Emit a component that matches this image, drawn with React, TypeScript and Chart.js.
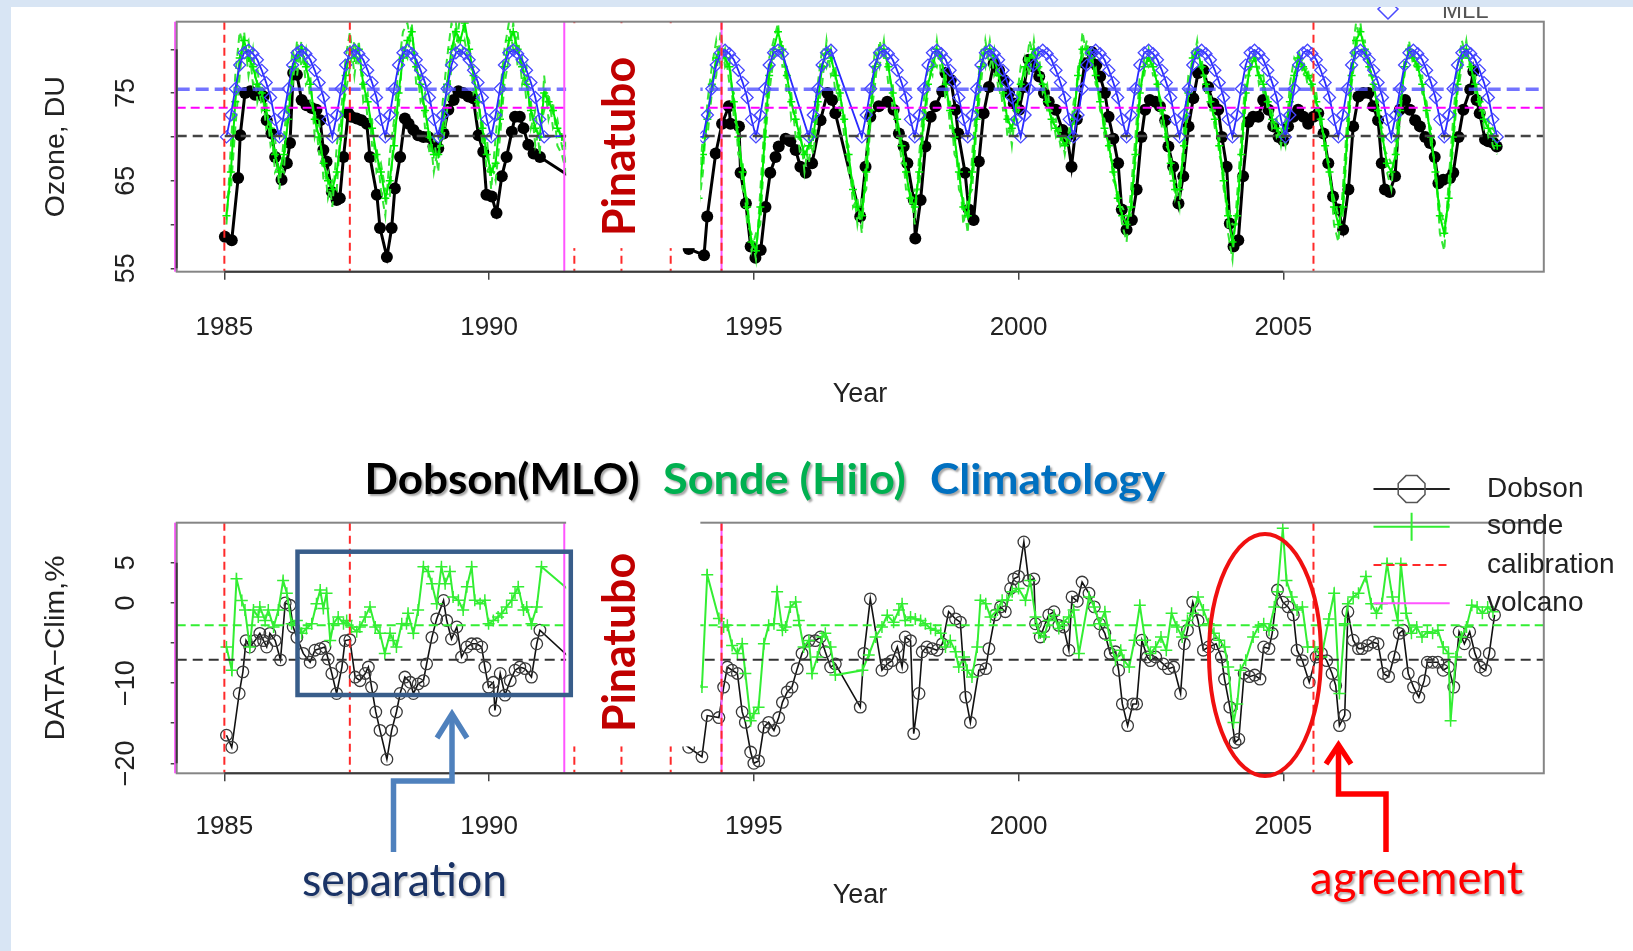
import React, { useEffect, useRef } from 'react';
import { Chart, registerables } from 'chart.js';

Chart.register(...registerables);

// ---------------- data ----------------
const X_MIN = 1984.1;
const X_MAX = 2009.92;
const xTickYears = [1985, 1990, 1995, 2000, 2005];

const topYMin = 54.61;
const topYMax = 83.15;
const topYTicks = [55, 60, 65, 70, 75, 80];
const topYLabelled = [55, 65, 75];
const bottomYMin = -21.25;
const bottomYMax = 10;
const bottomYTicks = [-20, -15, -10, -5, 0, 5];
const bottomYLabelled = [-20, -10, 0, 5];

const calibrationYears = [1985.0, 1987.37, 1991.61, 1992.5, 1993.43, 1994.39, 2005.57];
const volcanoYears = [1984.07, 1991.42, 1994.39];

const climatologyMeanDU = 75.45;
const sondeMeanDU = 73.33;
const dobsonMeanDU = 70.1;
const sondeAnomalyMean = -2.8;
const dobsonAnomalyMean = -7.1;

// Climatology (MLL) by month, Jan..Dec
const climatologyCycle = [70.0, 72.5, 75.5, 78.2, 79.6, 79.9, 79.5, 78.8, 77.6, 76.2, 74.5, 72.0];
const climatologySpans: [number, number][] = [[1985, 1991], [1994, 2009]];
const climatologyTail: [number, number][] = [[1991.7, 70.2]];
const climatologySkip: [number, number][] = [[1995.55, 1996.0], [1996.5, 1997.0]];

// Dobson (MLO) total column, DU  [year, value]
const dobsonTop: [number, number][] = [
  [1985.01, 58.6], [1985.14, 58.2], [1985.26, 65.3], [1985.30, 70.2], [1985.39, 75.0], [1985.49, 75.2], [1985.58, 74.8], [1985.67, 75.0], [1985.74, 74.6], [1985.80, 71.9], [1985.89, 70.4], [1985.96, 67.7],
  [1986.08, 65.1], [1986.18, 67.0], [1986.24, 69.3], [1986.30, 77.3], [1986.37, 77.1], [1986.46, 74.2], [1986.55, 73.6], [1986.65, 73.3], [1986.74, 73.1], [1986.81, 71.9], [1986.87, 68.5], [1986.93, 67.2],
  [1987.03, 63.7], [1987.12, 62.8], [1987.18, 63.0], [1987.25, 67.7], [1987.34, 72.7], [1987.40, 72.3], [1987.50, 72.1], [1987.59, 71.9], [1987.69, 71.5], [1987.75, 67.7], [1987.88, 63.4], [1987.94, 59.6],
  [1988.07, 56.3], [1988.16, 59.6], [1988.22, 64.1], [1988.32, 67.7], [1988.41, 72.1], [1988.48, 71.5], [1988.57, 70.8], [1988.66, 70.2], [1988.76, 70.0], [1988.85, 70.0], [1988.95, 68.9],
  [1989.04, 68.7], [1989.14, 70.4], [1989.23, 73.1], [1989.33, 74.2], [1989.42, 75.2], [1989.51, 75.0], [1989.61, 74.6], [1989.70, 74.4], [1989.80, 70.2], [1989.89, 68.3], [1989.95, 63.4],
  [1990.05, 63.2], [1990.14, 61.3], [1990.24, 65.5], [1990.33, 67.7], [1990.43, 70.6], [1990.49, 72.3], [1990.58, 72.3], [1990.65, 71.0], [1990.74, 69.1], [1990.84, 68.1], [1990.96, 67.7],
  [1991.60, 65.2],
  [1993.77, 57.2], [1994.06, 56.5], [1994.12, 60.9], [1994.28, 68.1], [1994.40, 71.5], [1994.53, 73.5], [1994.56, 71.5], [1994.72, 71.2], [1994.75, 65.9], [1994.85, 62.4], [1994.94, 57.5],
  [1995.03, 56.2], [1995.13, 57.1], [1995.22, 62.0], [1995.31, 65.9], [1995.41, 67.7], [1995.47, 68.9], [1995.60, 69.8], [1995.69, 69.5], [1995.79, 68.5], [1995.88, 66.6], [1995.98, 65.9],
  [1996.10, 67.0], [1996.26, 71.9], [1996.39, 75.0], [1996.48, 74.2], [1996.54, 72.7],
  [1997.01, 60.9], [1997.11, 66.6], [1997.20, 72.3], [1997.36, 73.5], [1997.52, 74.0], [1997.64, 73.1], [1997.74, 70.4], [1997.83, 68.9], [1997.90, 67.0],
  [1998.02, 62.8], [1998.05, 58.4], [1998.15, 62.8], [1998.24, 68.9], [1998.34, 72.3], [1998.43, 73.5], [1998.56, 75.2], [1998.62, 77.3], [1998.72, 76.5], [1998.81, 73.1], [1998.86, 70.4], [1998.99, 65.9],
  [1999.06, 61.7], [1999.15, 60.5], [1999.25, 67.2], [1999.34, 72.7], [1999.44, 75.7], [1999.53, 78.4], [1999.63, 77.6], [1999.72, 76.5], [1999.82, 75.0], [1999.91, 73.8],
  [2000.01, 73.1], [2000.10, 75.7], [2000.19, 78.8], [2000.29, 78.0], [2000.39, 76.9], [2000.48, 75.0], [2000.57, 74.0], [2000.70, 73.1], [2000.83, 70.8], [2000.92, 70.0],
  [2001.00, 66.6], [2001.10, 72.0], [2001.25, 78.4], [2001.38, 79.7], [2001.47, 78.2], [2001.54, 76.9], [2001.63, 75.0], [2001.70, 72.3], [2001.79, 69.8], [2001.88, 67.0], [2001.95, 61.7],
  [2002.04, 59.4], [2002.14, 60.5], [2002.23, 64.0], [2002.32, 70.0], [2002.39, 73.1], [2002.48, 74.2], [2002.58, 74.0], [2002.67, 73.5], [2002.77, 71.9], [2002.83, 68.9], [2002.92, 66.6],
  [2003.02, 62.4], [2003.11, 65.5], [2003.21, 71.2], [2003.30, 74.4], [2003.39, 77.3], [2003.49, 77.6], [2003.58, 75.7], [2003.68, 73.8], [2003.77, 73.1], [2003.84, 70.0], [2003.93, 66.6], [2003.99, 60.1],
  [2004.06, 57.5], [2004.15, 58.2], [2004.24, 65.5], [2004.34, 71.7], [2004.43, 72.3], [2004.53, 72.3], [2004.62, 74.2], [2004.72, 73.1], [2004.81, 71.2], [2004.91, 70.0],
  [2005.00, 69.6], [2005.09, 71.2], [2005.19, 72.3], [2005.28, 73.1], [2005.38, 72.3], [2005.47, 71.5], [2005.57, 72.3], [2005.66, 72.7], [2005.76, 70.4], [2005.85, 67.0], [2005.94, 63.2],
  [2006.04, 61.7], [2006.13, 59.4], [2006.23, 64.0], [2006.32, 71.2], [2006.42, 74.6], [2006.51, 75.0], [2006.61, 75.0], [2006.70, 73.5], [2006.79, 71.9], [2006.86, 67.0], [2006.92, 64.0],
  [2007.01, 63.7], [2007.11, 65.5], [2007.20, 73.1], [2007.30, 74.2], [2007.39, 73.1], [2007.49, 71.9], [2007.58, 71.2], [2007.68, 70.0], [2007.77, 69.3], [2007.86, 67.7], [2007.93, 64.7],
  [2008.02, 65.1], [2008.15, 65.3], [2008.21, 65.9], [2008.31, 70.0], [2008.40, 73.1], [2008.53, 75.4], [2008.59, 77.5], [2008.65, 74.2], [2008.71, 72.7], [2008.81, 69.7], [2008.87, 69.5], [2008.97, 69.3],
  [2009.03, 68.9],
];

// Sonde (Hilo) monthly, DU: Jan 1985 .. Aug 1991
const sondeTopEarly = [
  61, 66, 74, 79, 81, 79, 78, 76, 75, 73, 71, 68,
  66, 68, 72, 78, 79, 80, 78, 76, 72, 70, 67, 65,
  64, 66, 70, 77, 80, 79, 80, 76, 74, 71, 68, 66,
  63, 65, 69, 75, 79, 81, 82, 78, 76, 73, 70, 68,
  68, 71, 76, 80, 82, 81, 83, 80, 77, 74, 71, 68,
  66, 67, 72, 78, 81, 82, 80, 78, 76, 73, 71, 70,
  75, 74, 73, 71, 70, 69, 68, 68,
];
// Sonde (Hilo) monthly, DU: Dec 1993 .. Jan 2009
const sondeTopLate = [
  63,
  68, 72, 76, 79, 80, 79, 78, 74, 70, 66, 62, 58,
  57, 62, 70, 77, 80, 82, 80, 77, 74, 72, 70, 68,
  69, 70, 74, 78, 80, 79, 77, 75, 72, 68, 64, 62,
  61, 66, 73, 78, 80, 80, 78, 75, 72, 69, 66, 63,
  62, 66, 72, 76, 78, 80, 79, 76, 73, 70, 66, 62,
  61, 66, 72, 78, 80, 80, 79, 77, 75, 72, 71, 73,
  76, 78, 79, 80, 78, 76, 74, 72, 71, 70, 69, 70,
  72, 77, 80, 80, 79, 77, 74, 71, 69, 66, 63, 61,
  60, 62, 68, 75, 78, 79, 78, 76, 73, 70, 67, 64,
  64, 69, 75, 79, 80, 78, 76, 74, 72, 69, 65, 61,
  58, 61, 68, 75, 78, 79, 77, 76, 74, 72, 71, 70,
  71, 74, 77, 79, 78, 77, 76, 74, 72, 69, 66, 62,
  60, 62, 70, 77, 81, 82, 80, 78, 76, 73, 70, 67,
  66, 68, 73, 78, 80, 79, 78, 76, 73, 70, 66, 61,
  59, 63, 70, 76, 79, 80, 78, 76, 74, 72, 71, 70,
  69,
];
// individual sonde traces (dashed)
const sondeDashAEarly = [
  60, 69, 77, 82, 80, 81, 76, 78, 73, 74, 69, 70,
  64, 70, 75, 80, 77, 81, 76, 77, 70, 72, 65, 66,
  62, 69, 73, 79, 82, 77, 81, 74, 75, 69, 69, 64,
  61, 68, 72, 78, 82, 83, 80, 79, 74, 75, 68, 70,
  66, 74, 79, 83, 80, 84, 82, 81, 75, 76, 69, 70,
  64, 70, 75, 80, 83, 80, 82, 76, 78, 71, 73, 68,
  77, 72, 74, 69, 68, 66, 67, 66,
];
const sondeDashBEarly = [
  63, 64, 71, 77, 82, 77, 80, 74, 76, 71, 72, 66,
  67, 66, 74, 76, 81, 78, 80, 74, 73, 68, 68, 63,
  65, 64, 72, 75, 78, 81, 78, 77, 72, 72, 66, 67,
  64, 63, 71, 73, 80, 79, 83, 76, 77, 71, 71, 66,
  69, 69, 73, 78, 83, 79, 81, 78, 78, 72, 72, 66,
  67, 65, 70, 76, 79, 83, 78, 79, 74, 74, 69, 71,
  73, 75, 71, 72, 69, 67, 66, 67,
];
const sondeDashALate = [
  62,
  66, 74, 78, 81, 78, 80, 76, 75, 68, 67, 60, 59,
  56, 64, 72, 79, 81, 83, 78, 78, 72, 73, 68, 69,
  67, 72, 76, 80, 78, 80, 75, 76, 70, 69, 62, 63,
  59, 68, 75, 80, 78, 81, 76, 76, 70, 70, 64, 64,
  60, 68, 74, 78, 77, 81, 77, 77, 71, 71, 64, 63,
  59, 68, 74, 80, 78, 81, 77, 78, 73, 73, 69, 74,
  78, 77, 81, 79, 80, 75, 76, 71, 72, 69, 70, 69,
  74, 76, 82, 79, 80, 76, 75, 70, 70, 65, 64, 60,
  58, 64, 70, 77, 77, 80, 77, 77, 71, 71, 65, 65,
  62, 71, 77, 78, 81, 77, 77, 73, 73, 68, 66, 59,
  56, 63, 70, 77, 77, 80, 76, 77, 73, 73, 70, 71,
  69, 76, 79, 78, 79, 76, 77, 73, 73, 68, 67, 60,
  58, 64, 72, 79, 83, 81, 81, 77, 77, 72, 71, 66,
  64, 70, 75, 77, 81, 78, 79, 75, 74, 69, 67, 59,
  57, 65, 72, 78, 81, 79, 79, 75, 75, 71, 72, 69,
  68,
];
const sondeDashBLate = [
  65,
  70, 70, 75, 77, 82, 78, 79, 72, 71, 64, 63, 57,
  59, 60, 69, 75, 79, 80, 81, 75, 75, 70, 71, 66,
  70, 68, 73, 76, 81, 77, 78, 73, 73, 66, 65, 60,
  63, 64, 72, 76, 81, 79, 79, 73, 73, 67, 67, 62,
  64, 64, 71, 75, 79, 78, 80, 74, 74, 68, 67, 60,
  63, 64, 71, 76, 81, 78, 80, 75, 76, 70, 72, 71,
  75, 79, 77, 81, 77, 77, 73, 73, 70, 71, 68, 71,
  71, 78, 79, 81, 78, 78, 73, 72, 68, 67, 62, 62,
  61, 61, 67, 74, 79, 78, 79, 75, 74, 69, 68, 63,
  65, 67, 74, 80, 79, 79, 75, 75, 71, 70, 64, 62,
  60, 60, 67, 74, 79, 78, 78, 75, 75, 71, 72, 69,
  72, 73, 76, 80, 77, 78, 75, 75, 71, 70, 65, 63,
  61, 61, 69, 76, 80, 83, 79, 79, 75, 74, 69, 68,
  67, 67, 72, 79, 79, 80, 77, 77, 72, 71, 65, 62,
  60, 62, 69, 75, 78, 81, 77, 77, 73, 73, 70, 71,
  70,
];
const EARLY_START = 1985;
const LATE_START = 1993 + 11 / 12;

// Bottom panel: DATA - Clim, %
const dobsonAnomaly: [number, number][] = [
  [1985.04, -16.5], [1985.14, -18.0], [1985.28, -11.3], [1985.35, -8.6], [1985.41, -4.7], [1985.48, -5.5], [1985.58, -4.7], [1985.67, -3.8], [1985.74, -4.7], [1985.80, -5.5], [1985.86, -3.8], [1985.96, -4.7],
  [1986.06, -7.1], [1986.15, 0.0], [1986.24, -0.3], [1986.30, -3.0], [1986.37, -4.3], [1986.49, -6.3], [1986.62, -7.4], [1986.71, -5.9], [1986.81, -5.7], [1986.90, -5.5], [1986.96, -7.0],
  [1987.03, -8.8], [1987.12, -11.3], [1987.22, -8.0], [1987.28, -4.7], [1987.37, -4.6], [1987.47, -9.25], [1987.56, -9.7], [1987.66, -8.8], [1987.72, -8.0], [1987.78, -10.5], [1987.86, -13.6], [1987.94, -15.9],
  [1988.07, -19.5], [1988.16, -15.9], [1988.25, -13.6], [1988.32, -11.3], [1988.41, -9.25], [1988.51, -9.9], [1988.57, -11.3], [1988.66, -10.1], [1988.76, -9.7], [1988.82, -7.6], [1988.92, -4.3],
  [1989.01, -2.0], [1989.14, 0.3], [1989.20, -2.2], [1989.29, -4.5], [1989.39, -3.0], [1989.48, -6.75], [1989.58, -5.5], [1989.67, -5.1], [1989.77, -5.1], [1989.86, -5.5], [1989.92, -8.0], [1989.99, -10.5],
  [1990.08, -9.9], [1990.11, -13.4], [1990.21, -8.8], [1990.30, -11.5], [1990.40, -9.7], [1990.49, -8.4], [1990.58, -8.0], [1990.68, -8.2], [1990.80, -9.25], [1990.90, -5.1], [1990.96, -3.4],
  [1991.65, -7.6],
  [1993.77, -18.0], [1994.02, -19.2], [1994.12, -14.05], [1994.34, -14.3], [1994.43, -10.5], [1994.50, -8.0], [1994.59, -8.4], [1994.69, -8.8], [1994.78, -13.6], [1994.84, -14.9], [1994.94, -18.6],
  [1995.00, -20.0], [1995.09, -19.7], [1995.19, -15.5], [1995.28, -14.9], [1995.38, -15.9], [1995.47, -14.3], [1995.54, -12.4], [1995.63, -11.1], [1995.72, -10.5], [1995.82, -8.2], [1995.91, -6.3],
  [1996.04, -4.7], [1996.16, -4.7], [1996.26, -4.25], [1996.35, -6.1], [1996.45, -8.0], [1996.54, -7.6],
  [1997.01, -13.0], [1997.08, -6.3], [1997.20, 0.5], [1997.42, -8.4], [1997.52, -7.6], [1997.61, -7.2], [1997.71, -5.5], [1997.80, -8.0], [1997.86, -4.25], [1997.96, -4.7],
  [1998.02, -16.3], [1998.12, -11.3], [1998.18, -6.1], [1998.27, -5.5], [1998.37, -5.7], [1998.46, -5.9], [1998.56, -5.1], [1998.68, -1.1], [1998.81, -2.0], [1998.90, -2.4],
  [1999.00, -11.75], [1999.09, -14.9], [1999.25, -8.4], [1999.38, -8.2], [1999.44, -5.7], [1999.56, -1.5], [1999.66, -0.5], [1999.75, -1.1], [1999.85, 1.8], [1999.91, 3.0],
  [2000.00, 3.3], [2000.10, 7.6], [2000.19, 2.8], [2000.29, 3.0], [2000.32, -2.6], [2000.41, -4.25], [2000.48, -3.0], [2000.57, -1.5], [2000.67, -1.1], [2000.76, -2.8], [2000.85, -3.0], [2000.95, -5.9],
  [2001.01, 0.75], [2001.11, 0.2], [2001.20, 2.6], [2001.33, 1.2], [2001.43, -0.5], [2001.53, -2.6], [2001.63, -3.8], [2001.73, -6.3], [2001.83, -6.1], [2001.89, -8.4], [2001.96, -12.6],
  [2002.06, -15.3], [2002.16, -12.6], [2002.23, -12.6], [2002.33, -4.66], [2002.43, -6.75], [2002.49, -7.2], [2002.59, -6.75], [2002.73, -7.6], [2002.83, -8.2], [2002.93, -8.0],
  [2003.06, -11.3], [2003.13, -5.1], [2003.19, -3.4], [2003.29, 0.1], [2003.39, -2.2], [2003.49, -5.9], [2003.59, -5.5], [2003.73, -5.1], [2003.83, -6.75], [2003.89, -9.5], [2003.99, -13.0],
  [2004.09, -17.4], [2004.16, -17.0], [2004.26, -8.8], [2004.36, -9.2], [2004.46, -9.0], [2004.56, -9.5], [2004.63, -5.5], [2004.73, -5.7], [2004.79, -3.8], [2004.89, 1.6], [2004.99, 0.1],
  [2005.09, -0.5], [2005.19, -1.5], [2005.26, -5.9], [2005.36, -7.2], [2005.49, -9.9], [2005.62, -6.75], [2005.72, -6.3], [2005.82, -7.2], [2005.92, -8.8], [2005.99, -10.3],
  [2006.06, -15.3], [2006.16, -14.0], [2006.22, -1.1], [2006.32, -4.66], [2006.42, -5.7], [2006.49, -5.7], [2006.59, -5.3], [2006.69, -4.9], [2006.79, -5.1], [2006.89, -8.8], [2006.99, -9.2],
  [2007.09, -6.75], [2007.19, -3.8], [2007.26, -3.4], [2007.36, -8.8], [2007.46, -10.5], [2007.56, -11.75], [2007.66, -9.7], [2007.72, -7.4], [2007.82, -7.4], [2007.92, -7.4],
  [2008.02, -8.4], [2008.12, -8.0], [2008.22, -10.5], [2008.32, -3.6], [2008.42, -5.1], [2008.52, -3.6], [2008.62, -6.3], [2008.72, -8.0], [2008.82, -8.4], [2008.89, -6.3], [2008.99, -1.5],
];

const sondeAnomaly: [number, number][] = [
  [1985.04, -5.5], [1985.14, -8.4], [1985.23, 3.0], [1985.33, 0.3], [1985.39, -0.9], [1985.48, -5.5], [1985.55, -0.9], [1985.64, -1.75], [1985.67, -0.5], [1985.77, -2.2], [1985.83, -0.9], [1985.93, -3.0],
  [1986.02, -0.9], [1986.11, 2.8], [1986.18, 1.2], [1986.27, -2.6], [1986.37, -2.2], [1986.46, -3.8], [1986.55, -3.2], [1986.65, -2.6], [1986.74, -0.1], [1986.81, 1.6], [1986.87, -0.7], [1986.93, 1.2],
  [1987.00, -4.7], [1987.06, -2.6], [1987.15, -1.75], [1987.25, -2.6], [1987.31, -2.2], [1987.40, -3.0], [1987.50, -3.6], [1987.56, -3.0], [1987.66, -1.75], [1987.75, -0.5], [1987.85, -3.0], [1987.94, -3.8],
  [1988.03, -6.3], [1988.13, -3.8], [1988.19, -4.7], [1988.25, -5.5], [1988.35, -2.6], [1988.44, -2.6], [1988.47, -1.3], [1988.57, -3.8], [1988.66, -0.9], [1988.76, 4.5], [1988.85, 3.9], [1988.92, 2.4],
  [1989.01, -0.1], [1989.10, 4.5], [1989.17, 2.4], [1989.26, 3.9], [1989.32, 0.75], [1989.42, 0.33], [1989.51, -0.9], [1989.58, 2.0], [1989.67, 4.5], [1989.73, 0.33], [1989.83, -0.1], [1989.92, 0.33],
  [1989.99, -2.6], [1990.08, -2.2], [1990.17, -1.75], [1990.24, -1.3], [1990.33, -0.5], [1990.43, 0.33], [1990.49, 1.2], [1990.55, 2.0], [1990.65, -0.9], [1990.71, -0.5], [1990.80, -2.6], [1990.90, -0.5],
  [1990.99, 4.5], [1991.65, 0.8],
  [1994.02, -10.5], [1994.12, 3.5], [1994.34, -1.96], [1994.43, -3.0], [1994.50, -2.8], [1994.59, -5.3], [1994.69, -6.3], [1994.78, -5.1], [1994.84, -8.8], [1994.94, -14.7],
  [1995.00, -13.8], [1995.09, -13.0], [1995.19, -5.1], [1995.28, -2.8], [1995.38, -2.6], [1995.44, 1.4], [1995.54, -3.4], [1995.60, -3.0], [1995.69, -0.5], [1995.79, 0.1], [1995.85, -2.2], [1995.94, -5.5],
  [1996.04, -4.7], [1996.10, -8.8], [1996.20, -6.75], [1996.29, -4.25], [1996.35, -3.8], [1996.45, -5.5], [1996.54, -9.0],
  [1997.05, -8.4], [1997.17, -6.5], [1997.30, -4.25], [1997.42, -3.0], [1997.52, -1.55], [1997.64, -2.4], [1997.74, -0.9], [1997.80, -0.1], [1997.86, -2.2], [1997.96, -1.75],
  [1998.05, -2.0], [1998.15, -2.2], [1998.24, -2.6], [1998.34, -3.2], [1998.43, -3.4], [1998.53, -3.8], [1998.62, -5.5], [1998.71, -4.7], [1998.81, -6.1], [1998.87, -8.0], [1998.97, -6.75],
  [1999.03, -8.4], [1999.12, -9.25], [1999.22, -5.5], [1999.28, 0.33], [1999.38, -0.1], [1999.47, -1.75], [1999.60, -0.9], [1999.69, 0.33], [1999.78, 0.33], [1999.88, 1.4],
  [2000.00, 1.8], [2000.13, 0.33], [2000.22, 2.8], [2000.32, -1.75], [2000.38, -3.8], [2000.48, -4.25], [2000.57, -2.2], [2000.67, -1.55], [2000.76, -3.2], [2000.85, -2.4], [2000.95, -1.75],
  [2001.04, -0.9], [2001.14, -6.3], [2001.33, 0.75], [2001.43, -0.5], [2001.53, -2.6], [2001.63, -1.1], [2001.73, -4.66], [2001.83, -7.16], [2001.93, -5.9], [2001.99, -7.16],
  [2002.09, -8.0], [2002.19, -4.66], [2002.29, -0.3], [2002.39, -4.66], [2002.49, -6.3], [2002.59, -5.5], [2002.69, -4.25], [2002.79, -5.9], [2002.89, -1.3], [2002.99, -3.0],
  [2003.09, -4.25], [2003.19, -2.2], [2003.29, -1.3], [2003.39, 0.75], [2003.49, -0.9], [2003.59, -2.6], [2003.69, -3.8], [2003.79, -4.66], [2003.89, -5.5], [2003.96, -8.0],
  [2004.06, -14.9], [2004.13, -12.6], [2004.19, -8.4], [2004.29, -7.16], [2004.43, -4.25], [2004.53, -3.0], [2004.63, -2.6], [2004.73, -3.4], [2004.83, -0.5], [2004.89, 1.4], [2004.99, 9.3],
  [2005.06, 2.8], [2005.16, 0.75], [2005.26, -0.9], [2005.36, -0.5], [2005.46, -5.5], [2005.59, -5.5], [2005.72, -6.75], [2005.86, -2.0], [2005.96, 1.2],
  [2006.06, -11.3], [2006.16, -2.6], [2006.22, -0.1], [2006.32, 0.75], [2006.42, 1.2], [2006.56, 3.3], [2006.66, -0.1], [2006.76, -1.3], [2006.86, -0.1], [2006.96, 4.9],
  [2007.06, 0.75], [2007.16, -2.2], [2007.22, 4.9], [2007.32, -1.3], [2007.42, -3.8], [2007.52, -3.0], [2007.62, -4.25], [2007.72, -3.6], [2007.82, -3.8], [2007.92, -3.4],
  [2008.02, -5.5], [2008.12, -6.3], [2008.16, -14.7], [2008.26, -6.75], [2008.36, -4.25], [2008.46, -3.0], [2008.56, -0.3], [2008.66, -0.5], [2008.76, -1.3], [2008.86, -0.5], [2008.96, -1.1],
];

const legendLabels = ['Dobson', 'sonde', 'calibration', 'volcano'];
const titleParts = ['Dobson(MLO)', 'Sonde (Hilo)', 'Climatology'];

// ---------------- helpers ----------------
const FONT_R = '"Liberation Sans", Arial, Helvetica, sans-serif';
const FONT_SLIDE = 'Lato, "Open Sans", "Noto Sans", sans-serif';
const SLIDE_BLUE = '#d8e5f4';
const BOTTOM_OFFSET = 430;

function monthly(start: number, values: number[]) {
  return values.map((v, i) => ({ x: start + i / 12 + 0.04, y: v }));
}
function pairs(list: [number, number][]) {
  return list.map(([x, y]) => ({ x, y }));
}
function climatologyPoints() {
  const pts: { x: number; y: number }[] = [];
  climatologySpans.forEach(([a, b], k) => {
    for (let yr = a; yr < b; yr++) {
      for (let m = 0; m < 12; m++) {
        const x = yr + m / 12 + 0.04;
        if (climatologySkip.some(([s, e]) => x > s && x < e)) continue;
        pts.push({ x, y: climatologyCycle[m] });
      }
    }
    pts.push({ x: b + 0.04, y: climatologyCycle[0] });
    if (k === 0) climatologyTail.forEach(([x, y]) => pts.push({ x, y }));
  });
  return pts;
}
function flatLine(v: number) {
  return [{ x: X_MIN, y: v }, { x: X_MAX, y: v }];
}

function drawText(ctx: CanvasRenderingContext2D, text: string, x: number, y: number, o: any) {
  ctx.save();
  ctx.font = o.font;
  ctx.fillStyle = o.color || '#222';
  ctx.textAlign = o.align || 'left';
  ctx.textBaseline = o.baseline || 'alphabetic';
  const w = ctx.measureText(text).width;
  ctx.translate(x, y);
  if (o.rotate) ctx.rotate(o.rotate);
  if (o.width) ctx.scale(o.width / w, 1);
  if (o.shadow) {
    ctx.shadowColor = o.shadow;
    ctx.shadowOffsetX = 2;
    ctx.shadowOffsetY = 2;
    ctx.shadowBlur = 2;
  }
  ctx.fillText(text, 0, 0);
  ctx.restore();
}

function drawBackground(chart: any) {
  const { ctx, width, height } = chart;
  ctx.save();
  ctx.fillStyle = '#ffffff';
  ctx.fillRect(0, 0, width, height);
  ctx.fillStyle = SLIDE_BLUE;
  ctx.fillRect(0, 0, 11, height);
  ctx.restore();
}

function drawVerticalLines(chart: any) {
  const { ctx } = chart;
  const xs = chart.scales.x;
  const { top, bottom } = chart.chartArea;
  ctx.save();
  ctx.lineWidth = 2;
  ctx.strokeStyle = '#ff55ff';
  volcanoYears.forEach((yr) => {
    const px = xs.getPixelForValue(yr);
    ctx.beginPath();
    ctx.moveTo(px, top);
    ctx.lineTo(px, bottom);
    ctx.stroke();
  });
  ctx.strokeStyle = '#ff2a2a';
  ctx.setLineDash([8, 5]);
  calibrationYears.forEach((yr) => {
    const px = xs.getPixelForValue(yr);
    ctx.beginPath();
    ctx.moveTo(px, top);
    ctx.lineTo(px, bottom);
    ctx.stroke();
  });
  ctx.restore();
}

function drawFrame(chart: any, yTicks: number[]) {
  const { ctx } = chart;
  const { left, right, top, bottom } = chart.chartArea;
  const xs = chart.scales.x;
  const ys = chart.scales.y;
  ctx.save();
  ctx.strokeStyle = '#858585';
  ctx.lineWidth = 2;
  ctx.strokeRect(left, top, right - left, bottom - top);
  ctx.strokeStyle = '#3a3a3a';
  ctx.beginPath();
  ctx.moveTo(xs.getPixelForValue(xTickYears[0]), bottom);
  ctx.lineTo(xs.getPixelForValue(xTickYears[xTickYears.length - 1]), bottom);
  ctx.moveTo(left, ys.getPixelForValue(yTicks[0]));
  ctx.lineTo(left, ys.getPixelForValue(yTicks[yTicks.length - 1]));
  ctx.stroke();
  ctx.restore();
}

function drawPinatubo(chart: any, rectTop: number, rectBottomValue: number, textStartY: number) {
  const { ctx } = chart;
  const xs = chart.scales.x;
  const ys = chart.scales.y;
  const x0 = xs.getPixelForValue(1991.455);
  const x1 = xs.getPixelForValue(1993.99);
  const y1 = ys.getPixelForValue(rectBottomValue);
  ctx.save();
  ctx.fillStyle = '#ffffff';
  ctx.fillRect(x0, rectTop, x1 - x0, y1 - rectTop);
  ctx.restore();
  drawText(ctx, 'Pinatubo', 635, textStartY, {
    font: `bold 46px ${FONT_SLIDE}`,
    color: '#c00000',
    rotate: -Math.PI / 2,
    width: 179,
  });
}

function drawYLabels(chart: any, labelled: number[], fmt: (v: number) => string, title: string, titleLen: number) {
  const { ctx } = chart;
  const ys = chart.scales.y;
  const { top, bottom } = chart.chartArea;
  labelled.forEach((v) => {
    drawText(ctx, fmt(v), 127, ys.getPixelForValue(v), {
      font: `27px ${FONT_R}`,
      color: '#222',
      align: 'center',
      baseline: 'middle',
      rotate: -Math.PI / 2,
    });
  });
  drawText(ctx, title, 56, (top + bottom) / 2, {
    font: `28px ${FONT_R}`,
    color: '#222',
    align: 'center',
    baseline: 'middle',
    rotate: -Math.PI / 2,
    width: titleLen,
  });
}

function xAxisOptions(height: number, padding: number) {
  return {
    type: 'linear',
    min: X_MIN,
    max: X_MAX,
    afterBuildTicks: (s: any) => {
      s.ticks = xTickYears.map((v) => ({ value: v }));
    },
    afterFit: (s: any) => {
      s.height = height;
    },
    grid: { display: true, drawOnChartArea: false, drawTicks: true, tickLength: 8, color: '#444', lineWidth: 1.5 },
    border: { display: false },
    ticks: {
      callback: (v: any) => String(v),
      font: { family: FONT_R, size: 26 },
      color: '#222',
      padding,
      maxRotation: 0,
      minRotation: 0,
      autoSkip: false,
    },
  };
}

function yAxisOptions(min: number, max: number, ticks: number[]) {
  return {
    type: 'linear',
    min,
    max,
    afterBuildTicks: (s: any) => {
      s.ticks = ticks.map((v) => ({ value: v }));
    },
    afterFit: (s: any) => {
      s.width = 176.7;
    },
    grid: { display: true, drawOnChartArea: false, drawTicks: true, tickLength: 6, color: '#444', lineWidth: 1.5 },
    border: { display: false },
    ticks: { display: false },
  };
}

function refLine(label: string, v: number, color: string, width: number, dash: number[]) {
  return {
    label,
    data: flatLine(v),
    borderColor: color,
    borderWidth: width,
    borderDash: dash,
    pointRadius: 0,
    fill: false,
    order: 1,
  };
}

// ---------------- top panel ----------------
const topPlugin = {
  id: 'topDecor',
  beforeDraw(chart: any) {
    drawBackground(chart);
  },
  afterDatasetsDraw(chart: any) {
    drawVerticalLines(chart);
    drawFrame(chart, topYTicks);
    drawPinatubo(chart, chart.chartArea.top + 1.5, 57.3, 236);
  },
  afterDraw(chart: any) {
    const { ctx } = chart;
    drawYLabels(chart, topYLabelled, (v) => String(v), 'Ozone, DU', 141);
    drawText(ctx, 'Year', 860, 395, { font: `27px ${FONT_R}`, color: '#222', align: 'center', baseline: 'middle' });
    // partial MLL legend entry at top
    ctx.save();
    ctx.strokeStyle = '#4a4aff';
    ctx.lineWidth = 1.5;
    ctx.beginPath();
    ctx.moveTo(1388, 0);
    ctx.lineTo(1398, 9);
    ctx.lineTo(1388, 19);
    ctx.lineTo(1378, 9);
    ctx.closePath();
    ctx.stroke();
    ctx.restore();
    drawText(ctx, 'MLL', 1442, 18, { font: `24px ${FONT_R}`, color: '#555' });
    ctx.save();
    ctx.fillStyle = SLIDE_BLUE;
    ctx.fillRect(0, 0, chart.width, 7);
    ctx.restore();
  },
};

// ---------------- bottom panel ----------------
function drawArrow(ctx: CanvasRenderingContext2D, path: number[][], head: number[][], color: string) {
  ctx.save();
  ctx.strokeStyle = color;
  ctx.lineWidth = 5.5;
  ctx.lineJoin = 'miter';
  ctx.lineCap = 'butt';
  ctx.beginPath();
  path.forEach(([x, y], i) => (i === 0 ? ctx.moveTo(x, y) : ctx.lineTo(x, y)));
  ctx.stroke();
  ctx.beginPath();
  head.forEach(([x, y], i) => (i === 0 ? ctx.moveTo(x, y) : ctx.lineTo(x, y)));
  ctx.stroke();
  ctx.restore();
}

const bottomPlugin = {
  id: 'bottomDecor',
  beforeDraw(chart: any) {
    drawBackground(chart);
  },
  afterDatasetsDraw(chart: any) {
    drawVerticalLines(chart);
    drawFrame(chart, bottomYTicks);
    drawPinatubo(chart, chart.chartArea.top - 9, -17.9, 302);
  },
  afterDraw(chart: any) {
    const { ctx } = chart;
    drawYLabels(chart, bottomYLabelled, (v) => (v < 0 ? '\u2212' + Math.abs(v) : String(v)), 'DATA\u2212Clim,%', 185);
    drawText(ctx, 'Year', 860, 466, { font: `27px ${FONT_R}`, color: '#222', align: 'center', baseline: 'middle' });

    // title
    const titleFont = `bold 42px ${FONT_SLIDE}`;
    const sh = 'rgba(0,0,0,0.35)';
    drawText(ctx, titleParts[0], 364.5, 64, { font: titleFont, color: '#000000', width: 275, shadow: sh });
    drawText(ctx, titleParts[1], 663, 64, { font: titleFont, color: '#00b050', width: 243, shadow: sh });
    drawText(ctx, titleParts[2], 930, 64, { font: titleFont, color: '#0070c0', width: 235, shadow: sh });

    // legend
    const lx0 = 1373.5;
    const lx1 = 1449.7;
    const lxc = 1411.6;
    const rows = [59, 96.7, 135, 173.3];
    ctx.save();
    ctx.lineWidth = 2;
    ctx.strokeStyle = '#222';
    ctx.beginPath();
    ctx.moveTo(lx0, rows[0]);
    ctx.lineTo(lx1, rows[0]);
    ctx.stroke();
    ctx.strokeStyle = '#555';
    ctx.lineWidth = 1.5;
    ctx.beginPath();
    for (let k = 0; k < 8; k++) {
      const a = Math.PI / 8 + (k * Math.PI) / 4;
      const px = lxc + 14.5 * Math.cos(a);
      const py = rows[0] + 14.5 * Math.sin(a);
      if (k === 0) ctx.moveTo(px, py);
      else ctx.lineTo(px, py);
    }
    ctx.closePath();
    ctx.stroke();
    ctx.strokeStyle = '#33ee33';
    ctx.lineWidth = 2;
    ctx.beginPath();
    ctx.moveTo(lx0, rows[1]);
    ctx.lineTo(lx1, rows[1]);
    ctx.moveTo(lxc, rows[1] - 14);
    ctx.lineTo(lxc, rows[1] + 14);
    ctx.stroke();
    ctx.strokeStyle = '#ff2a2a';
    ctx.setLineDash([8, 5]);
    ctx.beginPath();
    ctx.moveTo(lx0, rows[2]);
    ctx.lineTo(lx1, rows[2]);
    ctx.stroke();
    ctx.setLineDash([]);
    ctx.strokeStyle = '#ff55ff';
    ctx.beginPath();
    ctx.moveTo(lx0, rows[3]);
    ctx.lineTo(lx1, rows[3]);
    ctx.stroke();
    ctx.restore();
    legendLabels.forEach((t, i) => {
      drawText(ctx, t, 1487, rows[i], { font: `28px ${FONT_R}`, color: '#222', baseline: 'middle' });
    });

    // separation box + arrow
    ctx.save();
    ctx.strokeStyle = '#385d8a';
    ctx.lineWidth = 4.5;
    ctx.strokeRect(297.5, 121.7, 570.8 - 297.5, 265 - 121.7);
    ctx.restore();
    drawArrow(ctx, [[393.5, 422], [393.5, 351], [452, 351], [452, 286]], [[437, 308], [452, 284], [467, 308]], '#4f81bd');
    drawText(ctx, 'separation', 302, 466, { font: `46px ${FONT_SLIDE}`, color: '#1a3366', width: 205, shadow: 'rgba(0,0,0,0.2)' });

    // agreement ellipse + arrow
    ctx.save();
    ctx.strokeStyle = '#f01010';
    ctx.lineWidth = 4;
    ctx.beginPath();
    ctx.ellipse(1265, 225, 56, 121, 0, 0, Math.PI * 2);
    ctx.stroke();
    ctx.restore();
    drawArrow(ctx, [[1386, 422], [1386, 364], [1338.5, 364], [1338.5, 318]], [[1326, 334], [1338.5, 315], [1351, 334]], '#ff0000');
    drawText(ctx, 'agreement', 1310, 464, { font: `46px ${FONT_SLIDE}`, color: '#ff0000', width: 213, shadow: 'rgba(0,0,0,0.3)' });
  },
};

function baseOptions(xAxis: any, yAxis: any, padding: any) {
  return {
    animation: false,
    responsive: false,
    devicePixelRatio: 1,
    events: [],
    layout: { padding },
    plugins: { legend: { display: false }, tooltip: { enabled: false }, title: { display: false } },
    scales: { x: xAxis, y: yAxis },
  };
}

export default function App() {
  const topRef = useRef<HTMLCanvasElement | null>(null);
  const bottomRef = useRef<HTMLCanvasElement | null>(null);

  useEffect(() => {
    const topChart = new Chart(topRef.current as HTMLCanvasElement, {
      type: 'line',
      data: {
        datasets: [
          {
            label: 'Dobson',
            data: pairs(dobsonTop),
            borderColor: '#000000',
            borderWidth: 3,
            pointRadius: 6,
            pointBackgroundColor: '#000000',
            pointBorderColor: '#000000',
            pointBorderWidth: 0,
            fill: false,
            order: 6,
          },
          {
            label: 'sonde trace A',
            data: [...monthly(EARLY_START, sondeDashAEarly), ...monthly(LATE_START, sondeDashALate)],
            borderColor: '#33e633',
            borderWidth: 2,
            borderDash: [8, 5],
            pointRadius: 0,
            fill: false,
            order: 5,
          },
          {
            label: 'sonde trace B',
            data: [...monthly(EARLY_START, sondeDashBEarly), ...monthly(LATE_START, sondeDashBLate)],
            borderColor: '#33e633',
            borderWidth: 2,
            borderDash: [8, 5],
            pointRadius: 0,
            fill: false,
            order: 5,
          },
          {
            label: 'sonde',
            data: [...monthly(EARLY_START, sondeTopEarly), ...monthly(LATE_START, sondeTopLate)],
            borderColor: '#00ee00',
            borderWidth: 2,
            pointStyle: 'cross',
            pointRadius: 4,
            pointBorderColor: '#00ee00',
            pointBorderWidth: 1.5,
            fill: false,
            order: 4,
          },
          {
            label: 'MLL',
            data: climatologyPoints(),
            borderColor: '#2a2aff',
            borderWidth: 1.8,
            pointStyle: 'rectRot',
            pointRadius: 6,
            pointBackgroundColor: 'rgba(0,0,0,0)',
            pointBorderColor: '#4646ff',
            pointBorderWidth: 1.3,
            fill: false,
            order: 3,
          },
          refLine('climatology mean', climatologyMeanDU, 'rgba(80,80,255,0.8)', 3.5, [13, 6]),
          refLine('sonde mean', sondeMeanDU, '#ff00ff', 2, [9, 5]),
          refLine('dobson mean', dobsonMeanDU, '#444444', 2.5, [10, 6]),
        ],
      },
      options: baseOptions(
        xAxisOptions(430 - 271.7, 33),
        yAxisOptions(topYMin, topYMax, topYTicks),
        { left: 0, right: 1633 - 1543.8, top: 21.7, bottom: 0 }
      ) as any,
      plugins: [topPlugin],
    });

    const bottomChart = new Chart(bottomRef.current as HTMLCanvasElement, {
      type: 'line',
      data: {
        datasets: [
          {
            label: 'Dobson',
            data: pairs(dobsonAnomaly),
            borderColor: '#111111',
            borderWidth: 1.6,
            pointStyle: 'circle',
            pointRadius: 5.8,
            pointBackgroundColor: 'rgba(0,0,0,0)',
            pointBorderColor: '#3a3a3a',
            pointBorderWidth: 1.3,
            fill: false,
            order: 4,
          },
          {
            label: 'sonde',
            data: pairs(sondeAnomaly),
            borderColor: '#33ee33',
            borderWidth: 2,
            pointStyle: 'cross',
            pointRadius: 6,
            pointBorderColor: '#33ee33',
            pointBorderWidth: 1.5,
            fill: false,
            order: 3,
          },
          refLine('sonde mean', sondeAnomalyMean, '#33ee33', 2, [9, 5]),
          refLine('dobson mean', dobsonAnomalyMean, '#333333', 2, [10, 6]),
        ],
      },
      options: baseOptions(
        xAxisOptions(521 - (773.3 - BOTTOM_OFFSET), 30),
        yAxisOptions(bottomYMin, bottomYMax, bottomYTicks),
        { left: 0, right: 1633 - 1543.8, top: 522.7 - BOTTOM_OFFSET, bottom: 0 }
      ) as any,
      plugins: [bottomPlugin],
    });

    return () => {
      topChart.destroy();
      bottomChart.destroy();
    };
  }, []);

  return (
    <div style={{ position: 'absolute', left: 0, top: 0, width: 1633, height: 951, background: '#ffffff', overflow: 'hidden' }}>
      <canvas ref={topRef} width={1633} height={430} style={{ position: 'absolute', left: 0, top: 0, width: 1633, height: 430 }} />
      <canvas
        ref={bottomRef}
        width={1633}
        height={521}
        style={{ position: 'absolute', left: 0, top: BOTTOM_OFFSET, width: 1633, height: 521 }}
      />
    </div>
  );
}
